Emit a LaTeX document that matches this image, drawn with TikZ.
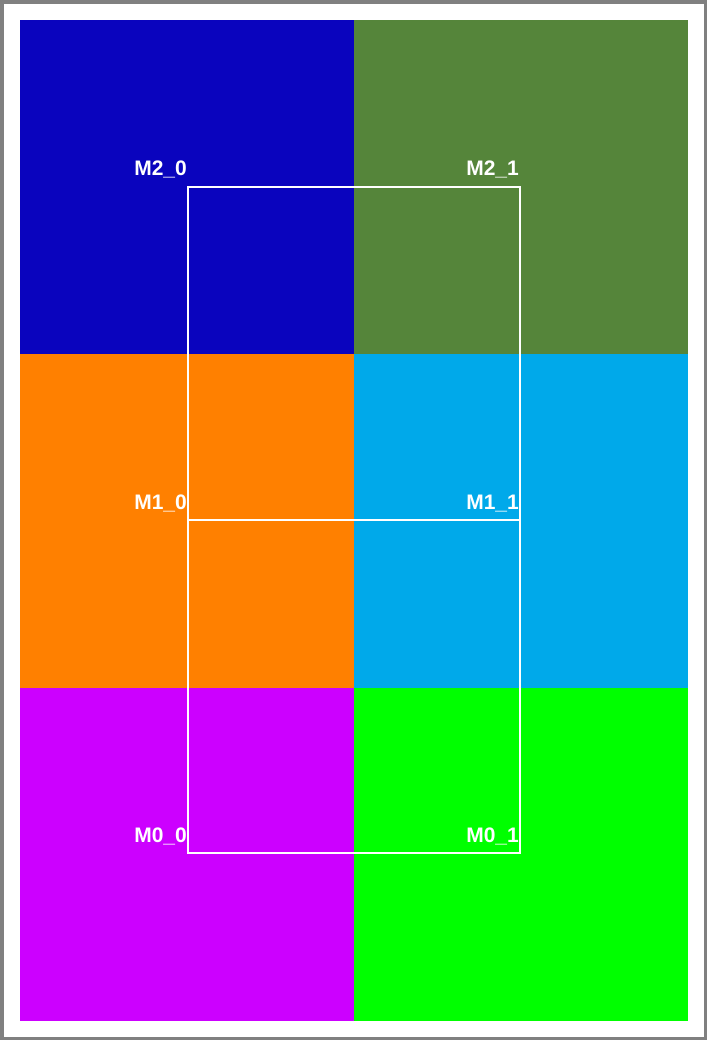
\documentclass[tikz,border=0pt]{standalone}
\usepackage{fontspec}
\setmainfont{Liberation Sans}
\definecolor{cblue}{HTML}{0A04BE}
\definecolor{cgreen}{HTML}{55853A}
\definecolor{corange}{HTML}{FF8000}
\definecolor{clblue}{HTML}{00A9EA}
\definecolor{cpurple}{HTML}{CC00FF}
\definecolor{clime}{HTML}{00FF00}
\definecolor{cborder}{HTML}{808080}
\tikzset{
  cell/.style={draw=none, inner sep=0pt, minimum width=334pt, minimum height=333.67pt, anchor=north west},
  lbl/.style={text=white, font=\bfseries\fontsize{21}{21}\selectfont, anchor=base east, inner sep=0pt},
  wline/.style={draw=white, line width=2.4pt}
}
\begin{document}
\begin{tikzpicture}[x=1pt,y=-1pt]
\fill[cborder] (0,0) rectangle (707,1040);
\fill[white] (4,4) rectangle (704,1037);
\node[cell, fill=cblue] (c20) at (20,20) {};
\node[cell, fill=cgreen] (c21) at (354,20) {};
\node[cell, fill=corange] (c10) at (20,353.67) {};
\node[cell, fill=clblue] (c11) at (354,353.67) {};
\node[cell, fill=cpurple] (c00) at (20,687.33) {};
\node[cell, fill=clime] (c01) at (354,687.33) {};
\coordinate (p20) at (188,187);
\coordinate (p21) at (520,187);
\coordinate (p10) at (188,520);
\coordinate (p11) at (520,520);
\coordinate (p00) at (188,853);
\coordinate (p01) at (520,853);
\draw[wline] (p20) -- (p21) -- (p01) -- (p00) -- cycle;
\draw[wline] (p10) -- (p11);
\node[lbl] (l20) at (187,176) {M2\_0};
\node[lbl] (l21) at (519,176) {M2\_1};
\node[lbl] (l10) at (187,509) {M1\_0};
\node[lbl] (l11) at (519,509) {M1\_1};
\node[lbl] (l00) at (187,842) {M0\_0};
\node[lbl] (l01) at (519,842) {M0\_1};
\end{tikzpicture}
\end{document}
